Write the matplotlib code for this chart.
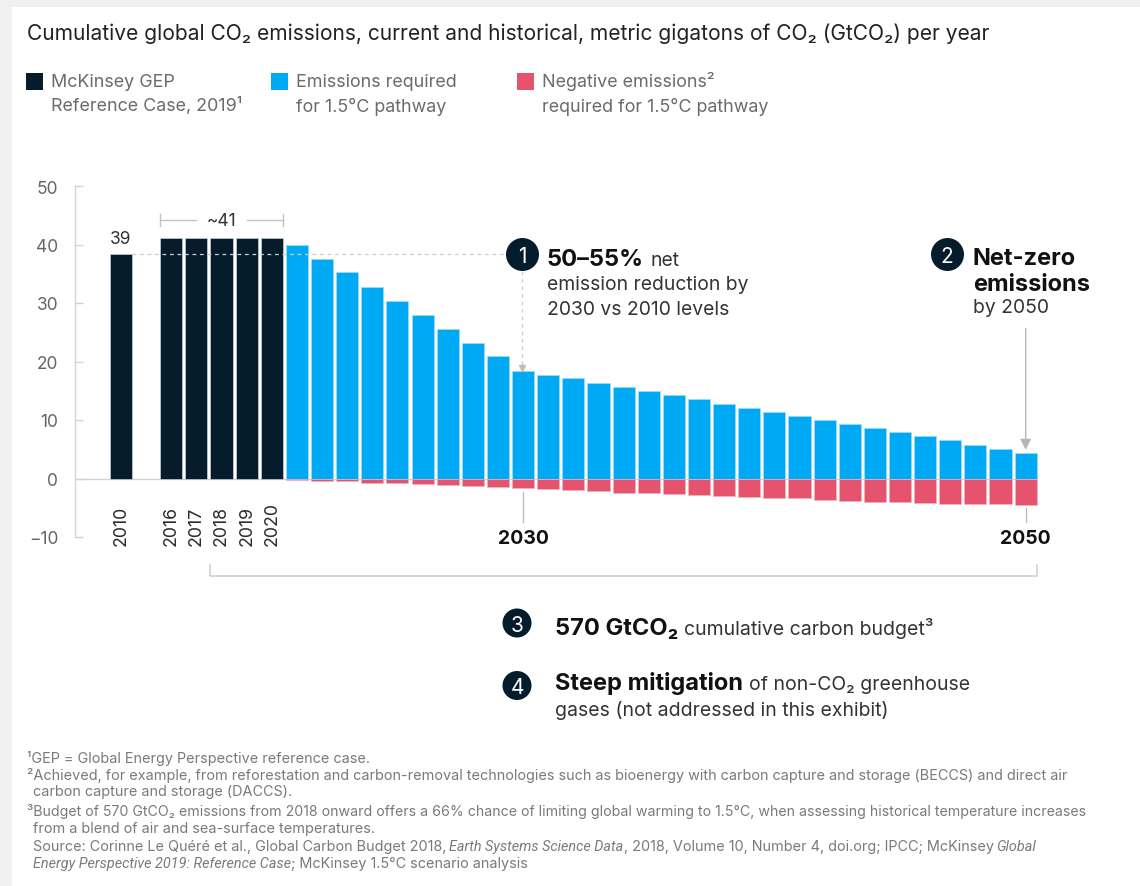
import matplotlib
matplotlib.use("Agg")
import matplotlib.pyplot as plt
from matplotlib.patches import Rectangle, Ellipse

# ---------------- data ----------------
hist_years = ["2010", "2016", "2017", "2018", "2019", "2020"]
hist_values = [38.3, 41.1, 41.1, 41.1, 41.1, 41.1]

path_years = list(range(2021, 2051))
path_values = [40.0, 37.6, 35.3, 32.8, 30.4, 28.0, 25.6, 23.2, 20.9, 18.4,
               17.7, 17.1, 16.3, 15.6, 14.9, 14.2, 13.6, 12.8,
               12.1, 11.4, 10.7, 10.0, 9.35, 8.6, 7.9, 7.2, 6.5, 5.8, 5.1, 4.4]
negative_values = [-0.2, -0.4, -0.5, -0.7, -0.85, -1.0, -1.1, -1.35, -1.5, -1.65,
                   -1.8, -2.0, -2.15, -2.4, -2.55, -2.65, -2.8, -2.95,
                   -3.1, -3.3, -3.4, -3.6, -3.8, -4.0, -4.1, -4.2, -4.3, -4.4, -4.4, -4.5]

label_2010 = "39"
label_hist_range = "~41"
y_ticks = [-10, 0, 10, 20, 30, 40, 50]
y_tick_labels = ["\u221210", "0", "10", "20", "30", "40", "50"]

title = "Cumulative global CO\u2082 emissions, current and historical, metric gigatons of CO\u2082 (GtCO\u2082) per year"
legend_items = [
    (["McKinsey GEP", "Reference Case, 2019\u00b9"], "#051c2c"),
    (["Emissions required", "for 1.5\u00b0C pathway"], "#00a9f4"),
    (["Negative emissions\u00b2", "required for 1.5\u00b0C pathway"], "#e5546c"),
]

NAVY = "#051c2c"
BLUE = "#00a9f4"
RED = "#e5546c"
GRID = "#d2d2d2"

FONT = ["Inter", "DejaVu Sans"]
plt.rcParams["font.family"] = FONT

W, H = 1140, 887
fig = plt.figure(figsize=(W / 100, H / 100), dpi=100)
fig.patch.set_facecolor("#f0f0f0")
fig.add_artist(Rectangle((12 / W, 0), 1, 1 - 8 / H, transform=fig.transFigure,
                         facecolor="white", edgecolor="none", zorder=-10))
renderer = fig.canvas.get_renderer()


def fx(x):
    return x / W


def fy(y):
    return 1 - y / H


def rich(x, y, parts, va="baseline"):
    """parts: list of (text, kwargs, gap_px_after)"""
    cx = x
    for txt, kw, gap in parts:
        t = fig.text(fx(cx), fy(y), txt, ha="left", va=va, **kw)
        bb = t.get_window_extent(renderer)
        cx += bb.width + gap
    return cx


def badge(x, y, r, num, size=14):
    fig.add_artist(Ellipse((fx(x), fy(y)), 2 * r / W, 2 * r / H, transform=fig.transFigure,
                           facecolor=NAVY, edgecolor="none", zorder=5))
    fig.text(fx(x), fy(y), num, color="white", ha="center", va="center_baseline",
             fontsize=size, zorder=6)


# ---------------- title & legend ----------------
fig.text(fx(27), fy(40), title, fontsize=15.1, color="#222222", ha="left", va="baseline")

leg_x = [26, 271, 517]
for (lines, col), lx in zip(legend_items, leg_x):
    fig.add_artist(Rectangle((fx(lx), fy(90.5)), 16.5 / W, 16.5 / H,
                             transform=fig.transFigure, facecolor=col, edgecolor="none"))
    fig.text(fx(lx + 25), fy(87), lines[0], fontsize=12.9, color="#6b6b6b", va="baseline")
    fig.text(fx(lx + 25), fy(111.5), lines[1], fontsize=12.9, color="#6b6b6b", va="baseline")

# ---------------- axes ----------------
PITCH = 25.13
X0 = 121
ax = fig.add_axes([fx(75), fy(538), (1100 - 75) / W, (538 - 187) / H])
ax.set_xlim((75 - X0) / PITCH, (1100 - X0) / PITCH)
ax.set_ylim(-10, 50)
ax.patch.set_alpha(0)
for s in ["top", "right", "bottom"]:
    ax.spines[s].set_visible(False)
ax.spines["left"].set_color(GRID)
ax.spines["left"].set_linewidth(1)
ax.set_yticks(y_ticks)
ax.set_yticklabels(y_tick_labels)
ax.tick_params(axis="y", direction="in", length=6, width=1, color=GRID,
               labelsize=12.5, labelcolor="#666666", pad=12)
ax.set_xticks([])


def slot(year):
    y = int(year)
    return 0 if y == 2010 else y - 2014


hist_pos = [slot(y) for y in hist_years]
path_pos = [slot(y) for y in path_years]
BW = 0.88

ax.plot([ax.get_xlim()[0], path_pos[-1] + BW / 2], [0, 0], color=GRID, lw=1, zorder=1)
ax.bar(hist_pos, hist_values, width=BW, color=NAVY, edgecolor="#c9d0d6", lw=0.5, zorder=2)
ax.bar(path_pos, path_values, width=BW, color=BLUE, edgecolor="#9fdcf8", lw=0.5, zorder=2)
ax.bar(path_pos, negative_values, width=BW, color=RED, edgecolor="#f3b3bd", lw=0.5, zorder=2)

# year labels
for p, yl in zip(hist_pos, hist_years):
    ax.text(p, (481 - 547.5) / 5.85, yl, rotation=90, ha="center", va="bottom",
            fontsize=12.8, color="#2a2a2a", clip_on=False)

x2030 = path_pos[path_years.index(2030)]
x2050 = path_pos[path_years.index(2050)]
v2030 = path_values[path_years.index(2030)]
v2050 = path_values[path_years.index(2050)]
n2030 = negative_values[path_years.index(2030)]
n2050 = negative_values[path_years.index(2050)]

for xp, yr, nv in [(x2030, "2030", n2030), (x2050, "2050", n2050)]:
    ax.plot([xp, xp], [nv - 0.6, -7.4], color="#bdbdbd", lw=1, clip_on=False)
    ax.text(xp, -10.25, yr, ha="center", va="center", fontsize=14,
            fontweight="bold", color="#111111", clip_on=False)

# bottom bracket
bl = (210 - X0) / PITCH
br = path_pos[-1] + BW / 2
ax.plot([bl, bl, br, br], [-14.8, -16.75, -16.75, -14.8], color=GRID, lw=1.2, clip_on=False)

# ~41 bracket
hl = hist_pos[1] - BW / 2
hr = hist_pos[-1] + BW / 2
yb = 44.15
mid = (hl + hr) / 2
ax.plot([hl, mid - 1.0], [yb, yb], color="#c4c4c4", lw=1, clip_on=False)
ax.plot([mid + 1.0, hr], [yb, yb], color="#c4c4c4", lw=1, clip_on=False)
ax.plot([hl, hl], [yb - 1, yb + 1], color="#c4c4c4", lw=1)
ax.plot([hr, hr], [yb - 1, yb + 1], color="#c4c4c4", lw=1)
ax.text(mid, yb, label_hist_range, ha="center", va="center", fontsize=12.5, color="#333333")
ax.text(hist_pos[0], hist_values[0] + 2.7, label_2010, ha="center", va="center",
        fontsize=12.5, color="#333333")

# dashed 2010 reference line
c1x = x2030 - 0.05
c1y = hist_values[0]
r_data_x = 16.5 / PITCH
r_data_y = 16.5 / 5.85
ax.plot([hist_pos[0] + BW / 2, c1x - r_data_x], [c1y, c1y], ls=(0, (3, 3)),
        color="#cdcdcd", lw=0.9, zorder=3)
ax.plot([c1x, c1x], [c1y - r_data_y, v2030 + 0.6], ls=(0, (3, 3)), color="#cdcdcd", lw=0.9, zorder=3)
ax.plot([c1x], [v2030 + 0.45], marker="v", ms=4, color="#bdbdbd", zorder=3)

# circles 1 and 2
c2x = (946.7 - X0) / PITCH
for cx, num in [(c1x, "1"), (c2x, "2")]:
    ax.scatter([cx], [c1y], s=(33 * 0.72) ** 2, color=NAVY, zorder=5, clip_on=False, linewidths=0)
    ax.text(cx, c1y, num, color="white", ha="center", va="center_baseline", fontsize=15, zorder=6)

# arrow to 2050
ax.annotate("", xy=(x2050, v2050 + 0.5), xytext=(x2050, (481 - 331) / 5.85),
            arrowprops=dict(arrowstyle="-|>", color="#b5b5b5", lw=1, mutation_scale=16,
                            shrinkA=0, shrinkB=0))

# annotation texts
BOLD = dict(fontsize=17, fontweight="bold", color="#111111")
REG = dict(fontsize=13.9, color="#333333")
rich(547, 266, [("50\u201355%", BOLD, 6), ("net", REG, 0)])
fig.text(fx(547), fy(290), "emission reduction by", va="baseline", **REG)
fig.text(fx(547), fy(315), "2030 vs 2010 levels", va="baseline", **REG)

fig.text(fx(973), fy(265), "Net-zero", va="baseline", **BOLD)
fig.text(fx(973), fy(291), "emissions", va="baseline", **BOLD)
fig.text(fx(973), fy(313), "by 2050", va="baseline", **REG)

# items 3 and 4
badge(517, 624, 14.5, "3", 15)
badge(517, 686.5, 14.5, "4", 15)
BOLD2 = dict(fontsize=17, fontweight="bold", color="#111111")
REG2 = dict(fontsize=14, color="#333333")
rich(555, 635, [("570 GtCO\u2082", BOLD2, 6), ("cumulative carbon budget\u00b3", REG2, 0)])
rich(555, 690, [("Steep mitigation", BOLD2, 6), ("of non-CO\u2082 greenhouse", REG2, 0)])
fig.text(fx(555), fy(716), "gases (not addressed in this exhibit)", va="baseline", **REG2)

# footnotes
FN = dict(fontsize=10.4, color="#7a7a7a")
FN4 = dict(fontsize=10.2, color="#7a7a7a")
FNI = dict(fontsize=10.4, color="#7a7a7a", style="italic", family=["Roboto", "DejaVu Sans"])
fig.text(fx(27), fy(763), "\u00b9GEP = Global Energy Perspective reference case.", va="baseline", **FN)
fig.text(fx(27), fy(780), "\u00b2Achieved, for example, from reforestation and carbon-removal technologies such as "
         "bioenergy with carbon capture and storage (BECCS) and direct air", va="baseline", **FN)
fig.text(fx(33), fy(796), "carbon capture and storage (DACCS).", va="baseline", **FN)
fig.text(fx(27), fy(816), "\u00b3Budget of 570 GtCO\u2082 emissions from 2018 onward offers a 66% chance of limiting "
         "global warming to 1.5\u00b0C, when assessing historical temperature increases", va="baseline", **FN4)
fig.text(fx(33), fy(833), "from a blend of air and sea-surface temperatures.", va="baseline", **FN)
rich(33, 851, [("Source: Corinne Le Qu\u00e9r\u00e9 et al., Global Carbon Budget 2018,", FN, 3),
               ("Earth Systems Science Data", FNI, 0),
               (", 2018, Volume 10, Number 4, doi.org; IPCC; McKinsey", FN, 3),
               ("Global", FNI, 0)])
rich(33, 868, [("Energy Perspective 2019: Reference Case", FNI, 0),
               ("; McKinsey 1.5\u00b0C scenario analysis", FN, 0)])

fig.savefig("out.png", dpi=100, facecolor=fig.get_facecolor())
